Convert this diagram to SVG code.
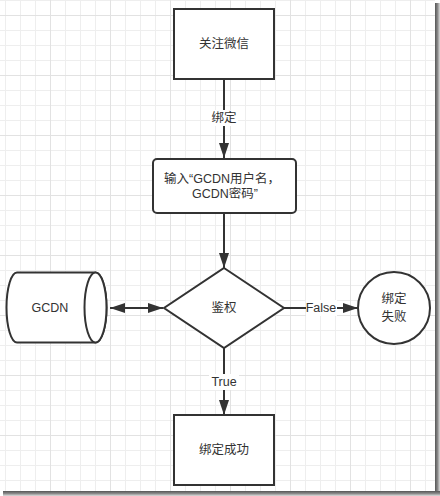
<svg xmlns="http://www.w3.org/2000/svg" width="440" height="496" viewBox="0 0 440 496">
<defs>
<pattern id="minor" x="5" y="0" width="15" height="15" patternUnits="userSpaceOnUse">
<path d="M0.5,0 V15 M0,0.5 H15" fill="none" stroke="#eeeeee" stroke-width="1"/>
</pattern>
<pattern id="major" x="50" y="15" width="60" height="60" patternUnits="userSpaceOnUse">
<path d="M0.5,0 V60 M0,0.5 H60" fill="none" stroke="#e2e2e2" stroke-width="1"/>
</pattern>
<linearGradient id="shR" x1="0" y1="0" x2="1" y2="0">
<stop offset="0" stop-color="#555"/>
<stop offset="0.5" stop-color="#888"/>
<stop offset="1" stop-color="#ddd"/>
</linearGradient>
<linearGradient id="shB" x1="0" y1="0" x2="0" y2="1">
<stop offset="0" stop-color="#555"/>
<stop offset="0.5" stop-color="#888"/>
<stop offset="1" stop-color="#ddd"/>
</linearGradient>
<marker id="ah" viewBox="0 0 15 10" refX="15" refY="5" markerWidth="15" markerHeight="10" markerUnits="userSpaceOnUse" orient="auto-start-reverse">
<path d="M0,0 L15,5 L0,10 Z" fill="#333"/>
</marker>
<style>
.shape{fill:#fff;stroke:#333;stroke-width:2}
.edge{fill:none;stroke:#333;stroke-width:2}
.t{font-family:"Liberation Sans","Noto Sans CJK SC",sans-serif;font-size:12.5px;fill:#333;text-anchor:middle;dominant-baseline:central}
.lbg{fill:#fff}
</style>
</defs>
<rect x="0" y="0" width="440" height="496" fill="#fff"/>
<rect x="0" y="0" width="435" height="491" fill="url(#minor)"/>
<rect x="0" y="0" width="435" height="491" fill="url(#major)"/>
<rect x="435" y="3" width="5" height="493" fill="url(#shR)"/>
<rect x="3" y="491" width="437" height="5" fill="url(#shB)"/>

<g id="connectors">
<line class="edge" x1="224" y1="79" x2="224" y2="158" marker-end="url(#ah)"/>
<rect class="lbg" x="210" y="110" width="28" height="16"/>
<text class="t" x="224" y="118">绑定</text>
<line class="edge" x1="224" y1="213" x2="224" y2="268" marker-end="url(#ah)"/>
<line class="edge" x1="110" y1="308" x2="163" y2="308" marker-start="url(#ah)" marker-end="url(#ah)"/>
<line class="edge" x1="284" y1="308" x2="358" y2="308" marker-end="url(#ah)"/>
<rect class="lbg" x="306" y="300" width="31" height="16"/>
<text class="t" x="321" y="308">False</text>
<line class="edge" x1="224" y1="348" x2="224" y2="415" marker-end="url(#ah)"/>
<rect class="lbg" x="209" y="374" width="30" height="16"/>
<text class="t" x="224" y="381.5">True</text>
</g>

<g id="follow">
<rect class="shape" x="174" y="9" width="100" height="70"/>
<text class="t" x="224" y="44">关注微信</text>
</g>

<g id="input">
<rect class="shape" x="153" y="159" width="143" height="54" rx="4" ry="4"/>
<text class="t" x="222" y="179">输入“GCDN用户名，</text>
<text class="t" x="225" y="194">GCDN密码”</text>
</g>

<g id="auth">
<polygon class="shape" points="224,268 284,308 224,348 164,308"/>
<text class="t" x="224" y="308">鉴权</text>
</g>

<g id="gcdn">
<path class="shape" d="M17,272.5 L95.5,272.5 A11,35 0 0 1 95.5,342.5 L17,342.5 A10.5,35 0 0 1 17,272.5 Z"/>
<ellipse class="shape" cx="95.5" cy="307.5" rx="11" ry="35"/>
<text class="t" x="50" y="308">GCDN</text>
</g>

<g id="fail">
<circle class="shape" cx="394" cy="308" r="36"/>
<text class="t" x="394" y="299">绑定</text>
<text class="t" x="394" y="317">失败</text>
</g>

<g id="success">
<rect class="shape" x="174" y="415" width="100" height="70"/>
<text class="t" x="224" y="450">绑定成功</text>
</g>
</svg>
